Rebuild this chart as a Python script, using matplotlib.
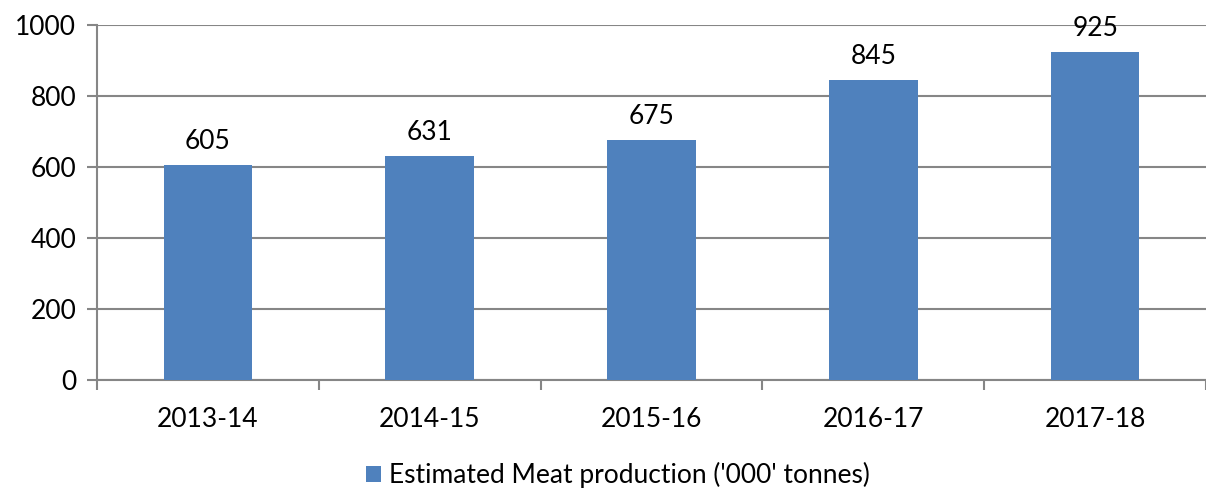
import numpy as np
import matplotlib.pyplot as plt

years = ['2013-14', '2014-15', '2015-16', '2016-17', '2017-18']
production = [605, 631, 675, 845, 925]
yticks = [0, 200, 400, 600, 800, 1000]

plt.rcParams['font.family'] = ['Lato', 'DejaVu Sans']
fs = 19

fig = plt.figure(figsize=(12.06, 4.9), dpi=100)
ax = fig.add_axes([0.0804, 0.2245, 0.9196, 0.7245])

x = np.arange(len(years))
bars = ax.bar(x, production, width=0.4, color='#4F81BD', zorder=3,
              label="Estimated Meat production ('000' tonnes)")

for xi, v in zip(x, production):
    ax.annotate(str(v), (xi, v), xytext=(0, 8), textcoords='offset points',
                ha='center', va='bottom', fontsize=fs, zorder=4)

ax.set_xlim(-0.5, len(years) - 0.5)
ax.set_ylim(0, 1000)
ax.set_yticks(yticks)
ax.tick_params(axis='y', labelsize=fs, length=7, width=1.5, color='#868686', pad=8)
ax.set_xticks(x)
ax.set_xticklabels(years)
ax.tick_params(axis='x', which='major', length=0, labelsize=fs, pad=19.5)
ax.set_xticks(np.arange(-0.5, len(years)), minor=True)
ax.tick_params(axis='x', which='minor', length=7, width=1.5, color='#868686')

ax.grid(axis='y', color='#868686', linewidth=1.5, zorder=0)
for s in ['top', 'right']:
    ax.spines[s].set_visible(False)
for s in ['left', 'bottom']:
    ax.spines[s].set_color('#868686')
    ax.spines[s].set_linewidth(1.5)

fig.legend(loc='center', bbox_to_anchor=(0.5124, 0.03), frameon=False,
           fontsize=fs, handlelength=0.6, handleheight=0.6, handletextpad=0.3)

fig.savefig('out.png', dpi=100)
